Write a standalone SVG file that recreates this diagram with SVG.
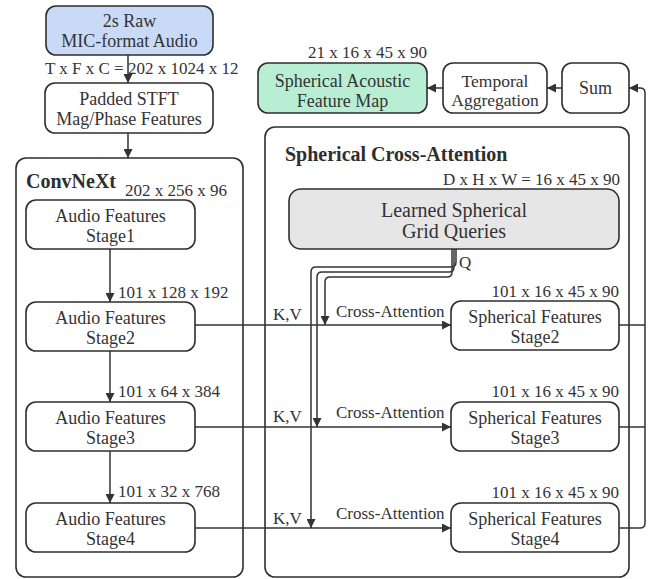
<svg xmlns="http://www.w3.org/2000/svg" width="655" height="579" viewBox="0 0 655 579">
<defs>
<marker id="ah" viewBox="0 0 10 10" refX="10" refY="5" markerWidth="9" markerHeight="9" markerUnits="userSpaceOnUse" orient="auto">
<path d="M0,0 L10,5 L0,10 z" fill="#333"/>
</marker>
</defs>
<style>
text{font-family:"Liberation Serif","Times New Roman",serif;fill:#333}
.b{fill:#fff;stroke:#2e2e2e;stroke-width:1.6}
.c{fill:none;stroke:#2e2e2e;stroke-width:1.6}
.t{font-size:18px;text-anchor:middle}
.d{font-size:17px}
.h{font-size:20px;font-weight:bold;fill:#2e2e2e}
.l{fill:none;stroke:#333;stroke-width:1.5}
.a{marker-end:url(#ah)}
</style>
<rect width="655" height="579" fill="#fff"/>

<g id="convnext">
<rect class="c" x="16" y="158" width="227" height="419" rx="10"/>
<text class="h" x="26" y="188">ConvNeXt</text>
</g>
<g id="sca">
<rect class="c" x="265" y="127" width="364" height="450" rx="10"/>
<text class="h" x="285" y="161">Spherical Cross-Attention</text>
</g>

<g id="connectors">
<path class="l a" d="M128 55 V83"/>
<path class="l a" d="M128 133 V158"/>
<path class="l a" d="M110 249 V302"/>
<path class="l a" d="M110 351 V402"/>
<path class="l a" d="M110 451 V503"/>
<path class="l a" d="M195 325 H451"/>
<path class="l a" d="M195 427 H451"/>
<path class="l a" d="M195 528 H451"/>
<path class="l a" d="M456 249 V262 Q456 267 451 267 H316 Q311 267 311 272 V528"/>
<path class="l a" d="M454 249 V267 Q454 272 449 272 H322 Q317 272 317 277 V427"/>
<path class="l a" d="M452 249 V272 Q452 277 447 277 H330 Q325 277 325 282 V325"/>
<path class="l" d="M619 325 H645"/>
<path class="l" d="M619 427 H645"/>
<path class="l a" d="M619 528 H640 Q645 528 645 523 V93 Q645 88 640 88 H629"/>
<path class="l a" d="M562 88 H547"/>
<path class="l a" d="M443 88 H427"/>
<text class="d" x="273" y="320">K,V</text>
<text class="d" x="273" y="422">K,V</text>
<text class="d" x="273" y="524">K,V</text>
<text class="d" x="336" y="317">Cross-Attention</text>
<text class="d" x="336" y="418">Cross-Attention</text>
<text class="d" x="336" y="519">Cross-Attention</text>
<text class="d" x="459" y="268">Q</text>
</g>

<g id="raw">
<rect class="b" x="46" y="6" width="167" height="49" rx="10" style="fill:#c9daf8"/>
<text class="t" x="129.5" y="27">2s Raw</text>
<text class="t" x="129.5" y="47">MIC-format Audio</text>
<text class="d" x="45" y="74">T x F x C = 202 x 1024 x 12</text>
</g>
<g id="stft">
<rect class="b" x="45" y="83" width="168" height="50" rx="10"/>
<text class="t" x="129" y="105">Padded STFT</text>
<text class="t" x="129" y="125">Mag/Phase Features</text>
</g>

<g id="audio1">
<text class="d" x="125" y="196">202 x 256 x 96</text>
<rect class="b" x="26" y="200" width="169" height="49" rx="10"/>
<text class="t" x="110.5" y="221.5">Audio Features</text>
<text class="t" x="110.5" y="241.5">Stage1</text>
</g>
<g id="audio2">
<text class="d" x="118" y="298">101 x 128 x 192</text>
<rect class="b" x="26" y="302" width="169" height="49" rx="10"/>
<text class="t" x="110.5" y="323.5">Audio Features</text>
<text class="t" x="110.5" y="343.5">Stage2</text>
</g>
<g id="audio3">
<text class="d" x="118" y="397">101 x 64 x 384</text>
<rect class="b" x="26" y="402" width="169" height="49" rx="10"/>
<text class="t" x="110.5" y="423.5">Audio Features</text>
<text class="t" x="110.5" y="443.5">Stage3</text>
</g>
<g id="audio4">
<text class="d" x="118" y="497">101 x 32 x 768</text>
<rect class="b" x="26" y="503" width="169" height="49" rx="10"/>
<text class="t" x="110.5" y="524.5">Audio Features</text>
<text class="t" x="110.5" y="544.5">Stage4</text>
</g>

<g id="queries">
<text class="d" x="620" y="185" text-anchor="end">D x H x W = 16 x 45 x 90</text>
<rect class="b" x="289" y="189" width="330" height="60" rx="12" style="fill:#e6e6e6"/>
<text class="t" x="454" y="217" style="font-size:20px">Learned Spherical</text>
<text class="t" x="454" y="238" style="font-size:20px">Grid Queries</text>
</g>

<g id="sph2">
<text class="d" x="619" y="297" text-anchor="end">101 x 16 x 45 x 90</text>
<rect class="b" x="451" y="301" width="168" height="49" rx="10"/>
<text class="t" x="535" y="322.5">Spherical Features</text>
<text class="t" x="535" y="342.5">Stage2</text>
</g>
<g id="sph3">
<text class="d" x="619" y="397" text-anchor="end">101 x 16 x 45 x 90</text>
<rect class="b" x="451" y="402" width="168" height="49" rx="10"/>
<text class="t" x="535" y="423.5">Spherical Features</text>
<text class="t" x="535" y="443.5">Stage3</text>
</g>
<g id="sph4">
<text class="d" x="619" y="498" text-anchor="end">101 x 16 x 45 x 90</text>
<rect class="b" x="451" y="503" width="168" height="49" rx="10"/>
<text class="t" x="535" y="524.5">Spherical Features</text>
<text class="t" x="535" y="544.5">Stage4</text>
</g>

<g id="featuremap">
<text class="d" x="427" y="58" text-anchor="end">21 x 16 x 45 x 90</text>
<rect class="b" x="258" y="63" width="169" height="50" rx="10" style="fill:#b8efd4"/>
<text class="t" x="342.5" y="87">Spherical Acoustic</text>
<text class="t" x="342.5" y="107">Feature Map</text>
</g>
<g id="temporal">
<rect class="b" x="443" y="63" width="104" height="50" rx="10"/>
<text class="t" x="495" y="86.5" style="font-size:17.5px">Temporal</text>
<text class="t" x="495" y="106" style="font-size:17.5px">Aggregation</text>
</g>
<g id="sum">
<rect class="b" x="562" y="63" width="67" height="50" rx="10"/>
<text class="t" x="595.5" y="94">Sum</text>
</g>
</svg>
